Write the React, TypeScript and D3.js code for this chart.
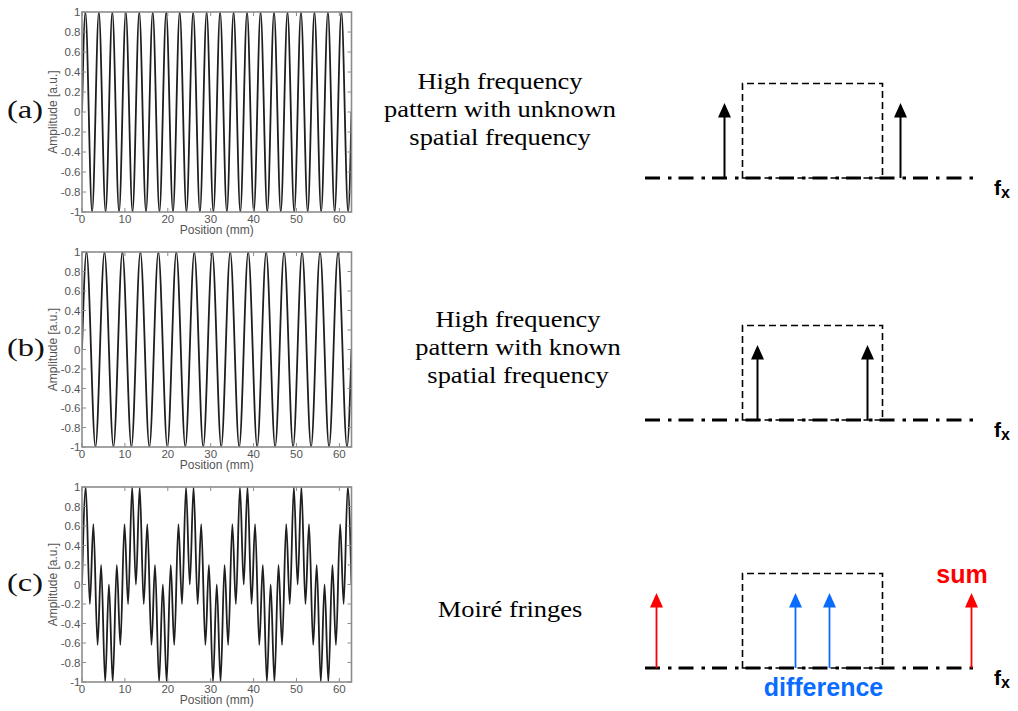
import React from 'react';
import * as d3 from 'd3';

// Shared axis settings for the three grating profiles
const positionMax = 62.83;
const positionTicks = [0, 10, 20, 30, 40, 50, 60];
const amplitudeTicks = [-1, -0.8, -0.6, -0.4, -0.2, 0, 0.2, 0.4, 0.6, 0.8, 1];
const amplitudeTickLabels = ['-1', '-0.8', '-0.6', '-0.4', '-0.2', '0', '0.2', '0.4', '0.6', '0.8', '1'];

// (a) turning points of the grating with unknown spatial frequency (position mm, amplitude)
const unknownX = [0, 0.79, 2.36, 3.93, 5.5, 7.07, 8.64, 10.21, 11.78, 13.35, 14.92, 16.49, 18.06, 19.63, 21.21,
  22.78, 24.35, 25.92, 27.49, 29.06, 30.63, 32.2, 33.77, 35.34, 36.91, 38.48, 40.06, 41.63, 43.2, 44.77, 46.34,
  47.91, 49.48, 51.05, 52.62, 54.19, 55.76, 57.33, 58.9, 60.48, 62.05, 62.83];
const unknownY = [0, 1, -1, 1, -1, 1, -1, 1, -1, 1, -1, 1, -1, 1, -1, 1, -1, 1, -1, 1, -1,
  1, -1, 1, -1, 1, -1, 1, -1, 1, -1, 1, -1, 1, -1, 1, -1, 1, -1, 1, -1, 0];

// (b) turning points of the reference grating with known spatial frequency
const knownX = [0, 1.05, 3.14, 5.24, 7.33, 9.42, 11.52, 13.61, 15.71, 17.8, 19.9, 21.99, 24.09, 26.18, 28.27,
  30.37, 32.46, 34.56, 36.65, 38.75, 40.84, 42.94, 45.03, 47.12, 49.22, 51.31, 53.41, 55.5, 57.6, 59.69, 61.78, 62.83];
const knownY = [0, 1, -1, 1, -1, 1, -1, 1, -1, 1, -1, 1, -1, 1, -1, 1,
  -1, 1, -1, 1, -1, 1, -1, 1, -1, 1, -1, 1, -1, 1, -1, 0];

// (c) turning points of the superposed (moiré) profile
const moireX = [0, 0.88, 1.83, 2.65, 3.63, 4.46, 5.4, 6.28, 7.16, 8.11, 8.94, 9.91, 10.74, 11.69,
  12.57, 13.45, 14.39, 15.22, 16.2, 17.02, 17.97, 18.85, 19.73, 20.68, 21.5, 22.48, 23.31, 24.25,
  25.13, 26.01, 26.96, 27.79, 28.76, 29.59, 30.54, 31.42, 32.3, 33.24, 34.07, 35.05, 35.87, 36.82,
  37.7, 38.58, 39.53, 40.35, 41.33, 42.16, 43.1, 43.98, 44.86, 45.81, 46.64, 47.61, 48.44, 49.39,
  50.27, 51.15, 52.09, 52.92, 53.9, 54.72, 55.67, 56.55, 57.43, 58.38, 59.2, 60.18, 61.0, 61.95, 62.83];
const moireY = [0, 1, -0.2, 0.62, -0.62, 0.2, -1, 0, -1, 0.2, -0.62, 0.62, -0.2, 1,
  0, 1, -0.2, 0.62, -0.62, 0.2, -1, 0, -1, 0.2, -0.62, 0.62, -0.2, 1,
  0, 1, -0.2, 0.62, -0.62, 0.2, -1, 0, -1, 0.2, -0.62, 0.62, -0.2, 1,
  0, 1, -0.2, 0.62, -0.62, 0.2, -1, 0, -1, 0.2, -0.62, 0.62, -0.2, 1,
  0, 1, -0.2, 0.62, -0.62, 0.2, -1, 0, -1, 0.2, -0.62, 0.62, -0.2, 1, 0];

// Spectra: spike positions along f_x (relative units, 0 = centre of the pass band)
const passband = [-70, 70];
const passbandHeight = 1.26;
const unknownSpikes = [-88, 88];
const knownSpikes = [-55, 55];
const sumSpikes = [-156, 159];
const differenceSpikes = [-17, 17];
const spikeHeight = 1;

const captionUnknown = ['High frequency', 'pattern with unknown', 'spatial frequency'];
const captionKnown = ['High frequency', 'pattern with known', 'spatial frequency'];
const captionMoire = ['Moiré fringes'];

const SANS = '"Liberation Sans", Arial, Helvetica, sans-serif';
const SERIF = '"Liberation Serif", "Times New Roman", Times, serif';

function Arrow({ x, base, tip, color, width }: { x: number; base: number; tip: number; color: string; width: number }) {
  const headLen = 14.5;
  const headHalf = 6.5;
  return (
    <g>
      <line x1={x} x2={x} y1={base} y2={tip + headLen - 1} stroke={color} strokeWidth={width} />
      <path d={`M${x},${tip} L${x - headHalf},${tip + headLen} L${x + headHalf},${tip + headLen} Z`} fill={color} />
    </g>
  );
}

export default function App() {
  const W = 1018;
  const H = 711;
  const plotLeft = 82;
  const plotRight = 351.5;
  const x = d3.scaleLinear().domain([0, positionMax]).range([plotLeft, plotRight]);

  const panels = [
    { label: '(a)', xs: unknownX, ys: unknownY, top: 12, bottom: 212 },
    { label: '(b)', xs: knownX, ys: knownY, top: 252, bottom: 447 },
    { label: '(c)', xs: moireX, ys: moireY, top: 487, bottom: 682 },
  ];

  const fx = d3.scaleLinear().domain([-167.5, 167.5]).range([645, 980]);

  const diagrams = [
    { baseline: 178, cx: 500, textY: 89, caption: captionUnknown, spikes: [{ at: unknownSpikes, color: '#000', w: 2 }] },
    { baseline: 420, cx: 518, textY: 327, caption: captionKnown, spikes: [{ at: knownSpikes, color: '#000', w: 2 }] },
    {
      baseline: 668, cx: 510, textY: 617, caption: captionMoire,
      spikes: [
        { at: sumSpikes, color: '#ff0000', w: 1.8 },
        { at: differenceSpikes, color: '#0a6cff', w: 1.8 },
      ],
    },
  ];

  return (
    <svg width={W} height={H} style={{ position: 'absolute', left: 0, top: 0, background: '#fff' }}>
      <defs>
        {panels.map((p, i) => (
          <clipPath id={`plot-clip-${i}`} key={i}>
            <rect x={plotLeft} y={p.top} width={plotRight - plotLeft} height={p.bottom - p.top} />
          </clipPath>
        ))}
      </defs>

      {panels.map((p, i) => {
        const y = d3.scaleLinear().domain([-1, 1]).range([p.bottom, p.top]);
        const line = d3
          .line<number>()
          .x((_, k) => x(p.xs[k]))
          .y((v) => y(v))
          .curve(d3.curveMonotoneX);
        const midY = (p.top + p.bottom) / 2;
        return (
          <g key={i}>
            <g clipPath={`url(#plot-clip-${i})`}>
              <path d={line(p.ys) || ''} fill="none" stroke="#1e1e1e" strokeWidth={1.8} strokeLinejoin="round" />
            </g>
            <rect x={plotLeft} y={p.top} width={plotRight - plotLeft} height={p.bottom - p.top}
              fill="none" stroke="#8c8c8c" strokeWidth={1.6} />
            {amplitudeTicks.map((t, k) => (
              <g key={`y${k}`}>
                <line x1={plotLeft} x2={plotLeft + 4} y1={y(t)} y2={y(t)} stroke="#8c8c8c" strokeWidth={1} />
                <line x1={plotRight - 4} x2={plotRight} y1={y(t)} y2={y(t)} stroke="#8c8c8c" strokeWidth={1} />
                <text x={plotLeft - 1.5} y={y(t) + 4} textAnchor="end" fontFamily={SANS} fontSize={11.5} fill="#555">
                  {amplitudeTickLabels[k]}
                </text>
              </g>
            ))}
            {positionTicks.map((t) => (
              <g key={`x${t}`}>
                <line x1={x(t)} x2={x(t)} y1={p.bottom} y2={p.bottom - 4} stroke="#8c8c8c" strokeWidth={1} />
                <line x1={x(t)} x2={x(t)} y1={p.top} y2={p.top + 4} stroke="#8c8c8c" strokeWidth={1} />
                <text x={x(t)} y={p.bottom + 11} textAnchor="middle" fontFamily={SANS} fontSize={11.5} fill="#555">
                  {t}
                </text>
              </g>
            ))}
            <text x={(plotLeft + plotRight) / 2} y={p.bottom + 22} textAnchor="middle" fontFamily={SANS}
              fontSize={12} fill="#555">
              Position (mm)
            </text>
            <text transform={`translate(57,${midY}) rotate(-90)`} textAnchor="middle" fontFamily={SANS}
              fontSize={12} fill="#555">
              Amplitude [a.u.]
            </text>
            <text transform={`translate(7,${midY + 6}) scale(1.25,1)`} fontFamily={SERIF} fontSize={26} fill="#111">
              {p.label}
            </text>
          </g>
        );
      })}

      {diagrams.map((d, i) => {
        const amp = d3.scaleLinear().domain([0, 1]).range([d.baseline, d.baseline - 75]);
        const boxTop = amp(passbandHeight);
        return (
          <g key={i}>
            {d.caption.map((line, k) => (
              <text key={k} transform={`translate(${d.cx},${d.textY + k * 28}) scale(1.15,1)`} textAnchor="middle"
                fontFamily={SERIF} fontSize={23} fill="#000">
                {line}
              </text>
            ))}
            <line x1={fx(-167.5)} x2={fx(167.5)} y1={d.baseline} y2={d.baseline} stroke="#000" strokeWidth={3}
              strokeDasharray="15 8 3.5 7" />
            <path
              d={`M${fx(passband[0])},${d.baseline} V${boxTop} H${fx(passband[1])} V${d.baseline} Z`}
              fill="none" stroke="#000" strokeWidth={1.6} strokeDasharray="7 4" />
            {d.spikes.map((s, j) =>
              s.at.map((f, k) => (
                <Arrow key={`${j}-${k}`} x={fx(f)} base={d.baseline} tip={amp(spikeHeight)} color={s.color} width={s.w} />
              ))
            )}
            <text x={994} y={d.baseline + 17} fontFamily={SANS} fontWeight="bold" fontSize={21} fill="#000">
              f<tspan fontSize={16} dy={3}>x</tspan>
            </text>
          </g>
        );
      })}

      <text x={962} y={583} textAnchor="middle" fontFamily={SANS} fontWeight="bold" fontSize={25} fill="#ff0000">
        sum
      </text>
      <text x={823.5} y={696} textAnchor="middle" fontFamily={SANS} fontWeight="bold" fontSize={25} fill="#0a6cff">
        difference
      </text>
    </svg>
  );
}
